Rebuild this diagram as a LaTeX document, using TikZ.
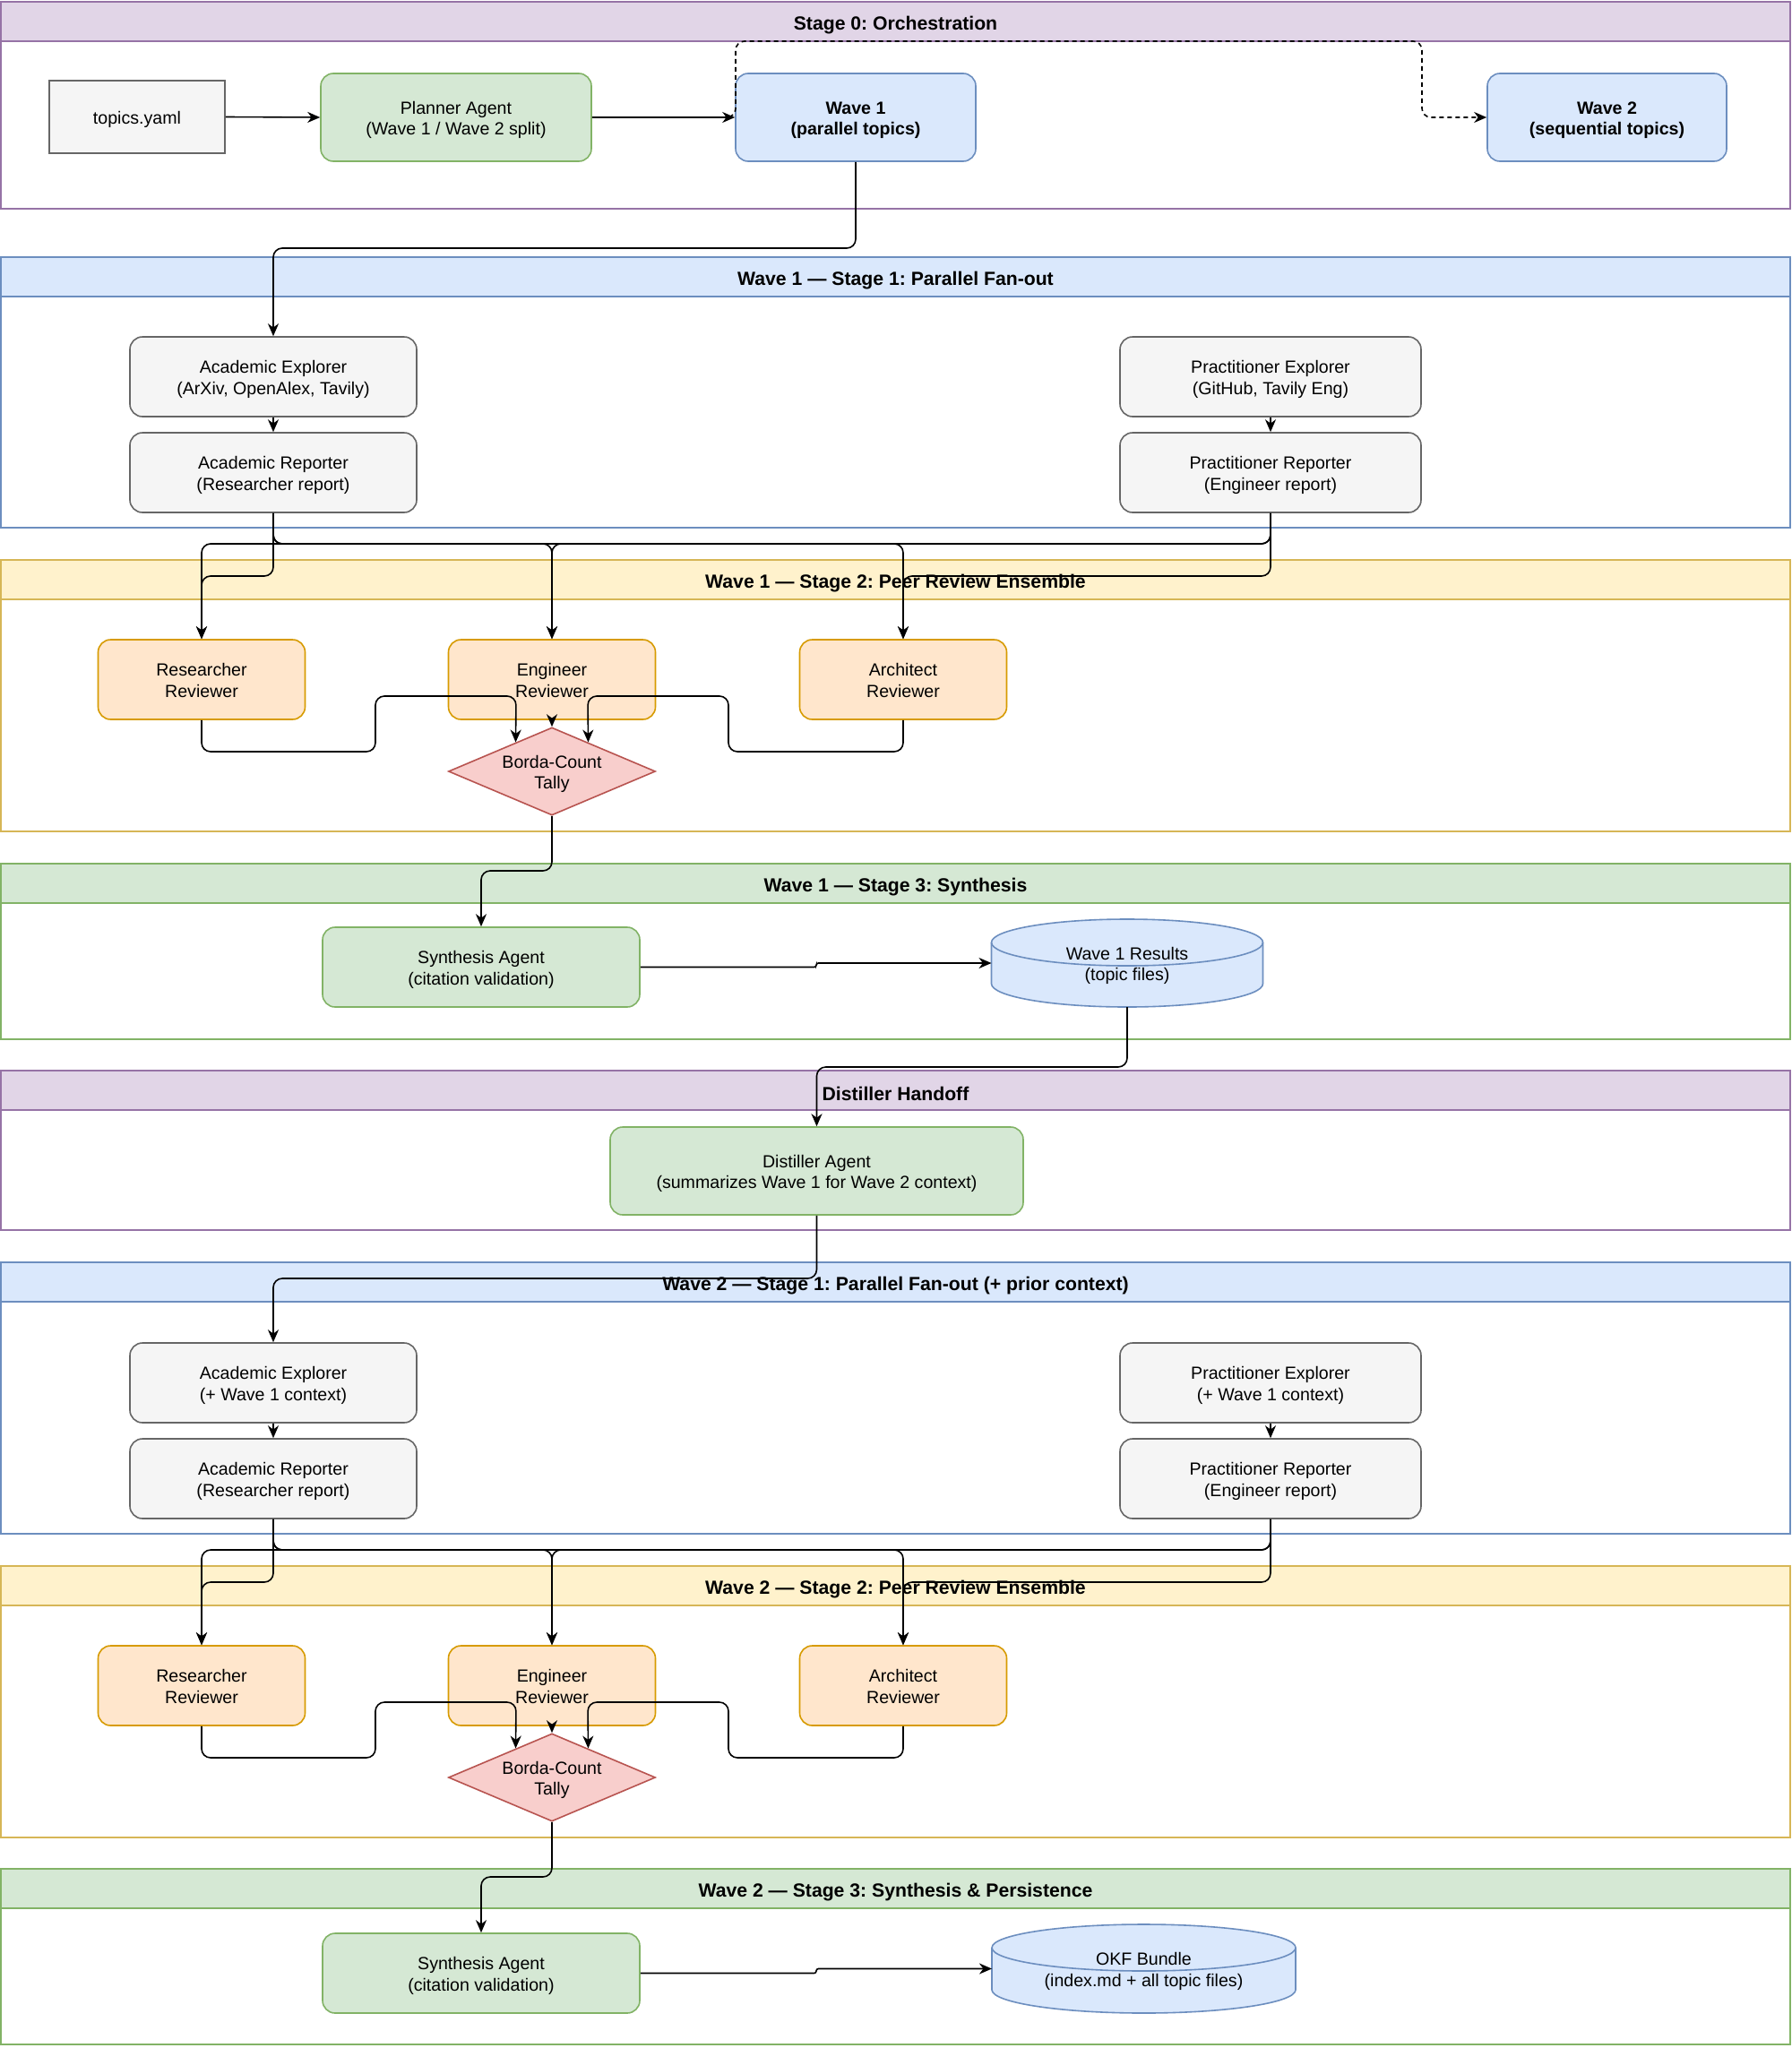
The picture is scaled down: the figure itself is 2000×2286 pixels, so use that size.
\documentclass[tikz,border=0pt]{standalone}
\usepackage{fontspec}
\setmainfont{Liberation Sans}
\frenchspacing
\usetikzlibrary{arrows.meta,shapes.geometric,calc}
\definecolor{pfill}{HTML}{E1D5E7}\definecolor{pstroke}{HTML}{9673A6}
\definecolor{bfill}{HTML}{DAE8FC}\definecolor{bstroke}{HTML}{6C8EBF}
\definecolor{yfill}{HTML}{FFF2CC}\definecolor{ystroke}{HTML}{D6B656}
\definecolor{gnfill}{HTML}{D5E8D4}\definecolor{gnstroke}{HTML}{82B366}
\definecolor{gyfill}{HTML}{F5F5F5}\definecolor{gystroke}{HTML}{666666}
\definecolor{ofill}{HTML}{FFE6CC}\definecolor{ostroke}{HTML}{D79B00}
\definecolor{rfill}{HTML}{F8CECC}\definecolor{rstroke}{HTML}{B85450}
\newcommand\bodyf{\fontsize{9.8pt}{11.8pt}\selectfont}
\newcommand\hdrf{\fontsize{10.6pt}{12.7pt}\selectfont\bfseries}
\newcommand\boxtxt[1]{\raisebox{-1.6pt}[\height][\depth]{\begin{tabular}{@{}c@{}}#1\end{tabular}}}
\newcommand\hdtxt[1]{\raisebox{-1.8pt}[\height][\depth]{#1}}
\pgfdeclarelayer{background}
\pgfsetlayers{background,main}
\tikzset{
  contb/.style={draw, line width=0.8pt, fill=white, minimum width=998.5pt, anchor=north west, outer sep=0pt, inner sep=0pt},
  hdr/.style={draw, line width=0.8pt, minimum width=998.5pt, minimum height=22pt, anchor=north west, outer sep=0pt, inner sep=0pt, font=\hdrf},
  box/.style={rounded corners=7pt, line width=0.8pt, align=center, font=\bodyf, inner sep=1pt},
  gyb/.style={box, fill=gyfill, draw=gystroke},
  gnb/.style={box, fill=gnfill, draw=gnstroke},
  blb/.style={box, fill=bfill, draw=bstroke},
  orb/.style={box, fill=ofill, draw=ostroke, minimum width=115.5pt, minimum height=44.5pt},
  agent/.style={gyb, minimum height=44.5pt},
  tally/.style={diamond, draw=rstroke, fill=rfill, line width=0.8pt, aspect=2.36, minimum width=115.5pt, minimum height=49pt, inner sep=0pt, align=center, font=\bodyf},
  cyl/.style={rectangle, inner sep=0pt, outer sep=0pt, align=center, font=\bodyf},
  cylbody/.style={draw=bstroke, fill=bfill, line width=0.8pt},
  conn/.style={draw=black, line width=0.8pt, rounded corners=5pt, -{Stealth[length=7pt,width=6pt,inset=2.2pt]}},
  dashconn/.style={conn, dash pattern=on 2.5pt off 2pt},
}
\begin{document}
\begin{tikzpicture}[x=0.5pt, y=-0.5pt]
\useasboundingbox (0,0) rectangle (2000,2286);

% ---------- containers ----------
\begin{pgfonlayer}{background}
\node[contb, draw=pstroke, minimum height=115.5pt] (s0) at (1,2) {};
\node[hdr, draw=pstroke, fill=pfill] (s0h) at (1,2) {\hdtxt{Stage 0: Orchestration}};
\node[contb, draw=bstroke, minimum height=151pt] (s1) at (1,287) {};
\node[hdr, draw=bstroke, fill=bfill] (s1h) at (1,287) {\hdtxt{Wave 1 — Stage 1: Parallel Fan-out}};
\node[contb, draw=ystroke, minimum height=151.5pt] (s2) at (1,625) {};
\node[hdr, draw=ystroke, fill=yfill] (s2h) at (1,625) {\hdtxt{Wave 1 — Stage 2: Peer Review Ensemble}};
\node[contb, draw=gnstroke, minimum height=98pt] (s3) at (1,964) {};
\node[hdr, draw=gnstroke, fill=gnfill] (s3h) at (1,964) {\hdtxt{Wave 1 — Stage 3: Synthesis}};
\node[contb, draw=pstroke, minimum height=89pt] (s4) at (1,1195) {};
\node[hdr, draw=pstroke, fill=pfill] (s4h) at (1,1195) {\hdtxt{Distiller Handoff}};
\node[contb, draw=bstroke, minimum height=151.5pt] (s5) at (1,1409) {};
\node[hdr, draw=bstroke, fill=bfill] (s5h) at (1,1409) {\hdtxt{Wave 2 — Stage 1: Parallel Fan-out (+ prior context)}};
\node[contb, draw=ystroke, minimum height=151.5pt] (s6) at (1,1748) {};
\node[hdr, draw=ystroke, fill=yfill] (s6h) at (1,1748) {\hdtxt{Wave 2 — Stage 2: Peer Review Ensemble}};
\node[contb, draw=gnstroke, minimum height=98pt] (s7) at (1,2086) {};
\node[hdr, draw=gnstroke, fill=gnfill] (s7h) at (1,2086) {\hdtxt{Wave 2 — Stage 3: Synthesis \& Persistence}};
\end{pgfonlayer}

% ---------- Stage 0 ----------
\node[gyb, sharp corners, minimum width=98pt, minimum height=40.5pt] (topics) at (153,130.5) {\boxtxt{topics.yaml}};
\node[gnb, minimum width=151pt, minimum height=49pt] (planner) at (509,131) {\boxtxt{Planner Agent\\(Wave 1 / Wave 2 split)}};
\node[blb, font=\bodyf\bfseries, minimum width=134pt, minimum height=49pt] (wave1) at (955,131) {\boxtxt{Wave 1\\(parallel topics)}};
\node[blb, font=\bodyf\bfseries, minimum width=133.5pt, minimum height=49pt] (wave2) at (1793.5,131) {\boxtxt{Wave 2\\(sequential topics)}};

% ---------- Wave 1 Stage 1 ----------
\node[agent, minimum width=160pt] (ae1) at (305,420.5) {\boxtxt{Academic Explorer\\(ArXiv, OpenAlex, Tavily)}};
\node[agent, minimum width=160pt] (ar1) at (305,527.5) {\boxtxt{Academic Reporter\\(Researcher report)}};
\node[agent, minimum width=168pt] (pe1) at (1418,420.5) {\boxtxt{Practitioner Explorer\\(GitHub, Tavily Eng)}};
\node[agent, minimum width=168pt] (pr1) at (1418,527.5) {\boxtxt{Practitioner Reporter\\(Engineer report)}};

% ---------- Wave 1 Stage 2 ----------
\node[orb] (rr1) at (225,758.5) {\boxtxt{Researcher\\Reviewer}};
\node[orb] (er1) at (616,758.5) {\boxtxt{Engineer\\Reviewer}};
\node[orb] (xr1) at (1008,758.5) {\boxtxt{Architect\\Reviewer}};
\node[tally] (bd1) at (616,861) {\boxtxt{Borda-Count\\Tally}};

% ---------- Wave 1 Stage 3 ----------
\node[gnb, minimum width=177pt, minimum height=44.5pt] (sy1) at (537,1079.5) {\boxtxt{Synthesis Agent\\(citation validation)}};
\node[cyl, minimum width=151.5pt, minimum height=49pt] (cy1) at (1258,1075) {\boxtxt{Wave 1 Results\\(topic files)}};

% ---------- Distiller ----------
\node[gnb, minimum width=230.5pt, minimum height=49pt] (dist) at (911.5,1307) {\boxtxt{Distiller Agent\\(summarizes Wave 1 for Wave 2 context)}};

% ---------- Wave 2 Stage 1 ----------
\node[agent, minimum width=160pt] (ae2) at (305,1543.5) {\boxtxt{Academic Explorer\\(+ Wave 1 context)}};
\node[agent, minimum width=160pt] (ar2) at (305,1650.5) {\boxtxt{Academic Reporter\\(Researcher report)}};
\node[agent, minimum width=168pt] (pe2) at (1418,1543.5) {\boxtxt{Practitioner Explorer\\(+ Wave 1 context)}};
\node[agent, minimum width=168pt] (pr2) at (1418,1650.5) {\boxtxt{Practitioner Reporter\\(Engineer report)}};

% ---------- Wave 2 Stage 2 ----------
\node[orb] (rr2) at (225,1881.5) {\boxtxt{Researcher\\Reviewer}};
\node[orb] (er2) at (616,1881.5) {\boxtxt{Engineer\\Reviewer}};
\node[orb] (xr2) at (1008,1881.5) {\boxtxt{Architect\\Reviewer}};
\node[tally] (bd2) at (616,1984) {\boxtxt{Borda-Count\\Tally}};

% ---------- Wave 2 Stage 3 ----------
\node[gnb, minimum width=177pt, minimum height=44.5pt] (sy2) at (537,2202.5) {\boxtxt{Synthesis Agent\\(citation validation)}};
\node[cyl, minimum width=169.5pt, minimum height=49.5pt] (cy2) at (1276.5,2197.5) {\boxtxt{OKF Bundle\\(index.md + all topic files)}};

% ---------- cylinder outlines ----------
\begin{pgfonlayer}{background}
\path[cylbody] ($(cy1.south west)+(0pt,13pt)$) arc[start angle=180, end angle=360, x radius=75.75pt, y radius=13pt]
  -- ($(cy1.north east)+(0pt,-13pt)$) arc[start angle=0, end angle=180, x radius=75.75pt, y radius=13pt] -- cycle;
\draw[bstroke, line width=0.8pt] ($(cy1.north west)+(0pt,-13pt)$) arc[start angle=180, end angle=360, x radius=75.75pt, y radius=13pt];
\path[cylbody] ($(cy2.south west)+(0pt,13pt)$) arc[start angle=180, end angle=360, x radius=84.75pt, y radius=13pt]
  -- ($(cy2.north east)+(0pt,-13pt)$) arc[start angle=0, end angle=180, x radius=84.75pt, y radius=13pt] -- cycle;
\draw[bstroke, line width=0.8pt] ($(cy2.north west)+(0pt,-13pt)$) arc[start angle=180, end angle=360, x radius=84.75pt, y radius=13pt];
\end{pgfonlayer}

% ---------- connectors: Stage 0 ----------
\draw[dashconn] (planner.east) -- (821,131) -- (821,46) -- (1587,46) -- (1587,131) -- (wave2.west);
\draw[conn] (topics.east) -- (planner.west);
\draw[conn] (planner.east) -- (wave1.west);
\draw[conn] (wave1.south) -- (955,277) -- (305,277) -- (ae1.north);

% ---------- connectors: Wave 1 ----------
\draw[conn] (ae1.south) -- (ar1.north);
\draw[conn] (pe1.south) -- (pr1.north);
\draw[conn] (ar1.south) -- (305,643) -- (225,643) -- (rr1.north);
\draw[conn] (ar1.south) -- (305,607) -- (616,607) -- (er1.north);
\draw[conn] (ar1.south) -- (305,607) -- (1008,607) -- (xr1.north);
\draw[conn] (pr1.south) -- (1418,607) -- (225,607) -- (rr1.north);
\draw[conn] (pr1.south) -- (1418,607) -- (616,607) -- (er1.north);
\draw[conn] (pr1.south) -- (1418,643) -- (1008,643) -- (xr1.north);
\draw[conn] (rr1.south) -- (225,839) -- (419,839) -- (419,777) -- (576,777) -- ($(bd1.north)!0.348!(bd1.west)$);
\draw[conn] (er1.south) -- (bd1.north);
\draw[conn] (xr1.south) -- (1008,839) -- (813,839) -- (813,777) -- (656,777) -- ($(bd1.north)!0.348!(bd1.east)$);
\draw[conn] (bd1.south) -- (616,972) -- (537,972) -- (sy1.north);
\draw[conn, rounded corners=1.2pt] (sy1.east) -- (911,1079.5) -- (911,1075) -- (cy1.west);
\draw[conn] (cy1.south) -- (1258,1191) -- (911.5,1191) -- (dist.north);
\draw[conn] (dist.south) -- (911.5,1427) -- (305,1427) -- (ae2.north);

% ---------- connectors: Wave 2 ----------
\draw[conn] (ae2.south) -- (ar2.north);
\draw[conn] (pe2.south) -- (pr2.north);
\draw[conn] (ar2.south) -- (305,1766) -- (225,1766) -- (rr2.north);
\draw[conn] (ar2.south) -- (305,1730) -- (616,1730) -- (er2.north);
\draw[conn] (ar2.south) -- (305,1730) -- (1008,1730) -- (xr2.north);
\draw[conn] (pr2.south) -- (1418,1730) -- (225,1730) -- (rr2.north);
\draw[conn] (pr2.south) -- (1418,1730) -- (616,1730) -- (er2.north);
\draw[conn] (pr2.south) -- (1418,1766) -- (1008,1766) -- (xr2.north);
\draw[conn] (rr2.south) -- (225,1962) -- (419,1962) -- (419,1900) -- (576,1900) -- ($(bd2.north)!0.348!(bd2.west)$);
\draw[conn] (er2.south) -- (bd2.north);
\draw[conn] (xr2.south) -- (1008,1962) -- (813,1962) -- (813,1900) -- (656,1900) -- ($(bd2.north)!0.348!(bd2.east)$);
\draw[conn] (bd2.south) -- (616,2095) -- (537,2095) -- (sy2.north);
\draw[conn, rounded corners=1.2pt] (sy2.east) -- (911,2202.5) -- (911,2197.5) -- (cy2.west);
\end{tikzpicture}
\end{document}
